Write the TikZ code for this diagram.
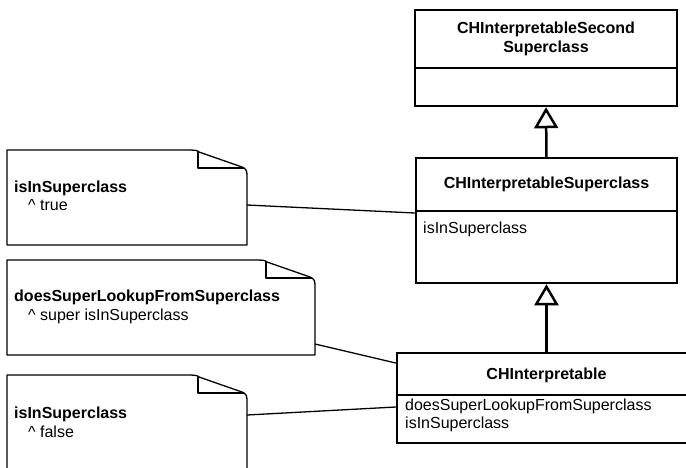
\documentclass[tikz,border=0pt]{standalone}
\usepackage{fontspec}
\setmainfont{Liberation Sans}
\usetikzlibrary{arrows.meta,calc}

\tikzset{
  classbox/.style={draw, line width=2.5pt, inner sep=0pt, outer sep=1.25pt},
  classline/.style={line width=2.5pt},
  titletext/.style={font=\bfseries\fontsize{16}{19}\selectfont, align=center, inner sep=0pt},
  attrtext/.style={font=\fontsize{16}{18}\selectfont, align=left, anchor=west, inner sep=0pt},
  notearea/.style={inner sep=0pt, outer sep=0pt},
  noteline/.style={line width=1.3pt, line join=round},
  notetext/.style={font=\fontsize{16}{18.5}\selectfont, align=left, anchor=west, inner sep=0pt},
  noteconn/.style={line width=1.3pt},
  genline/.style={line width=2.5pt, -{Triangle[open, length=21pt, width=24pt]}},
}

% dog-eared outline of a note, drawn round an invisible node
\newcommand\notefold[1]{%
  \draw[noteline] (#1.north west) -- ([xshift=-62pt]#1.north east)
    .. controls ([xshift=-53pt]#1.north east) and ([xshift=-50pt]#1.north east)
    .. ([xshift=-48pt,yshift=-2pt]#1.north east)
    -- ([xshift=-5pt,yshift=-17pt]#1.north east)
    .. controls ([xshift=-1pt,yshift=-18.5pt]#1.north east) and ([yshift=-21pt]#1.north east)
    .. ([yshift=-25pt]#1.north east)
    -- (#1.south east) -- (#1.south west) -- cycle;
  \draw[noteline] ([xshift=-49pt,yshift=-2pt]#1.north east)
    -- ([xshift=-49pt,yshift=-18pt]#1.north east)
    -- ([xshift=-3pt,yshift=-18pt]#1.north east);}

\begin{document}
\begin{tikzpicture}[x=1pt, y=-1pt]
  \fill[white] (0,0) rectangle (686,467);
  \useasboundingbox (0,0) rectangle (686,467);
  \clip (0,0) rectangle (686,467);

  % class CHInterpretableSecondSuperclass
  \node[classbox, minimum width=262pt, minimum height=96pt] (sup2) at (546,58) {};
  \draw[classline] (sup2.west |- 0,68) -- (sup2.east |- 0,68);
  \node[titletext] (sup2title) at (546,39) {CHInterpretableSecond\\Superclass};

  % class CHInterpretableSuperclass
  \node[classbox, minimum width=261pt, minimum height=125pt] (sup1) at (546.5,220.5) {};
  \draw[classline] (sup1.west |- 0,211) -- (sup1.east |- 0,211);
  \node[titletext] (sup1title) at (546.5,184.5) {CHInterpretableSuperclass};
  \node[attrtext] (sup1attr) at (423,229) {isInSuperclass};

  % class CHInterpretable
  \node[classbox, minimum width=299pt, minimum height=90pt] (cls) at (546.5,398) {};
  \draw[classline] (cls.west |- 0,395) -- (cls.east |- 0,395);
  \node[titletext] (clstitle) at (546.5,375) {CHInterpretable};
  \node[attrtext] (clsattr) at (405,415) {doesSuperLookupFromSuperclass\\isInSuperclass};

  % generalizations
  \draw[genline] (sup1.north) -- (sup2.south);
  \draw[genline] (cls.north) -- (sup1.south);

  % notes
  \node[notearea, minimum width=240pt, minimum height=95pt] (note1) at (127,197.5) {};
  \notefold{note1}
  \node[notetext] (note1txt) at (14,196) {\textbf{isInSuperclass}\\\hspace*{14pt}\textasciicircum\ true};

  \node[notearea, minimum width=308pt, minimum height=95pt] (note2) at (161,307.5) {};
  \notefold{note2}
  \node[notetext] (note2txt) at (14,307) {\textbf{doesSuperLookupFromSuperclass}\\\hspace*{14pt}\textasciicircum\ super isInSuperclass};

  \node[notearea, minimum width=240pt, minimum height=97pt] (note3) at (127,423.5) {};
  \notefold{note3}
  \node[notetext] (note3txt) at (14,422.5) {\textbf{isInSuperclass}\\\hspace*{14pt}\textasciicircum\ false};

  % note anchors
  \draw[noteconn] ([yshift=-7.5pt]note1.east) -- ([yshift=7.5pt]sup1.west);
  \draw[noteconn] ([yshift=-36.5pt]note2.east) -- ([yshift=35pt]cls.west);
  \draw[noteconn] ([yshift=8.5pt]note3.east) -- ([yshift=-9pt]cls.west);
\end{tikzpicture}
\end{document}
